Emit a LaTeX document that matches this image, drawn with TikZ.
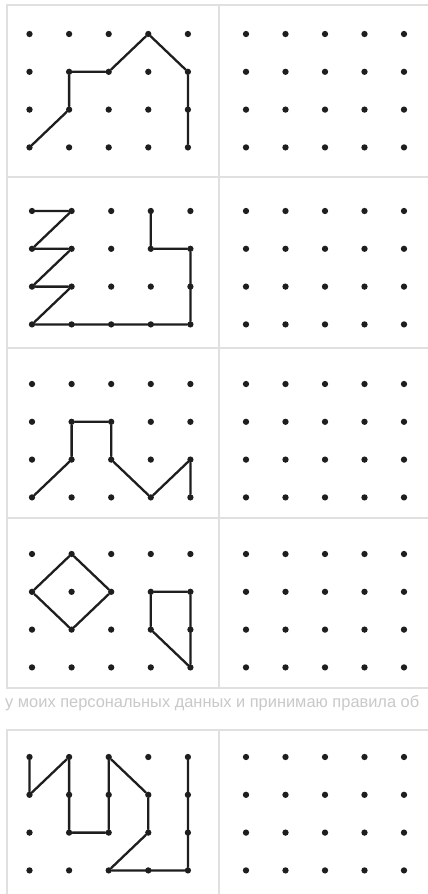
\documentclass[tikz,border=0pt]{standalone}
\usepackage{fontspec}
\setmainfont{Liberation Sans}
\usepackage{tikz}
\definecolor{frame}{HTML}{E0E0E0}
\definecolor{ink}{HTML}{1E1E1E}
\definecolor{note}{HTML}{C9C9C9}

\begin{document}
\begin{tikzpicture}[x=1pt, y=-1pt,
  dot/.style={circle, fill=ink, minimum size=6.3pt, inner sep=0pt},
  edge/.style={ink, line width=2.3pt, line join=round, line cap=round},
  box/.style={frame, line width=1.6pt},
  note/.style={font=\fontsize{16.4}{19}\selectfont, text=note, anchor=base west, inner sep=0pt},
]
\useasboundingbox (0,0) rectangle (428,894);
\clip (0,0) rectangle (428,894);
\fill[white] (0,0) rectangle (428,894);

% frames of the worksheet
\draw[box] (7,5) rectangle (440,688);
\draw[box] (7,177) -- (440,177);
\draw[box] (7,348) -- (440,348);
\draw[box] (7,518) -- (440,518);
\draw[box] (219,5) -- (219,688);
\draw[box] (7,730) rectangle (440,900);
\draw[box] (219,730) -- (219,900);

\node[note] (notice) at (5, 707) {у моих персональных данных и принимаю правила об};

% dot grids: p = sample, q = empty copy
\foreach \p/\x/\y in {1/29.5/34, 2/32/211, 3/32/384, 4/32/554, 5/29.5/757} {
  \foreach \c in {0,...,4} {
    \foreach \r in {0,...,3} {
      \node[dot] (p\p-\c-\r) at (\x+39.6*\c, \y+37.8*\r) {};
      \node[dot] (q\p-\c-\r) at (246+39.5*\c, \y+37.8*\r) {};
    }
  }
}

\draw[edge] (p1-0-3) -- (p1-1-2) -- (p1-1-1) -- (p1-2-1) -- (p1-3-0) -- (p1-4-1) -- (p1-4-3);

\draw[edge] (p2-0-0) -- (p2-1-0) -- (p2-0-1) -- (p2-1-1) -- (p2-0-2) -- (p2-1-2) -- (p2-0-3)
  -- (p2-4-3) -- (p2-4-1) -- (p2-3-1) -- (p2-3-0);

\draw[edge] (p3-0-3) -- (p3-1-2) -- (p3-1-1) -- (p3-2-1) -- (p3-2-2) -- (p3-3-3) -- (p3-4-2) -- (p3-4-3);

\draw[edge] (p4-1-0) -- (p4-2-1) -- (p4-1-2) -- (p4-0-1) -- (p4-1-0);
\draw[edge] (p4-3-1) -- (p4-4-1) -- (p4-4-3) -- (p4-3-2) -- (p4-3-1);

\draw[edge] (p5-0-0) -- (p5-0-1) -- (p5-1-0) -- (p5-1-2) -- (p5-2-2) -- (p5-2-0) -- (p5-3-1)
  -- (p5-3-2) -- (p5-2-3) -- (p5-4-3) -- (p5-4-0);

\end{tikzpicture}
\end{document}
